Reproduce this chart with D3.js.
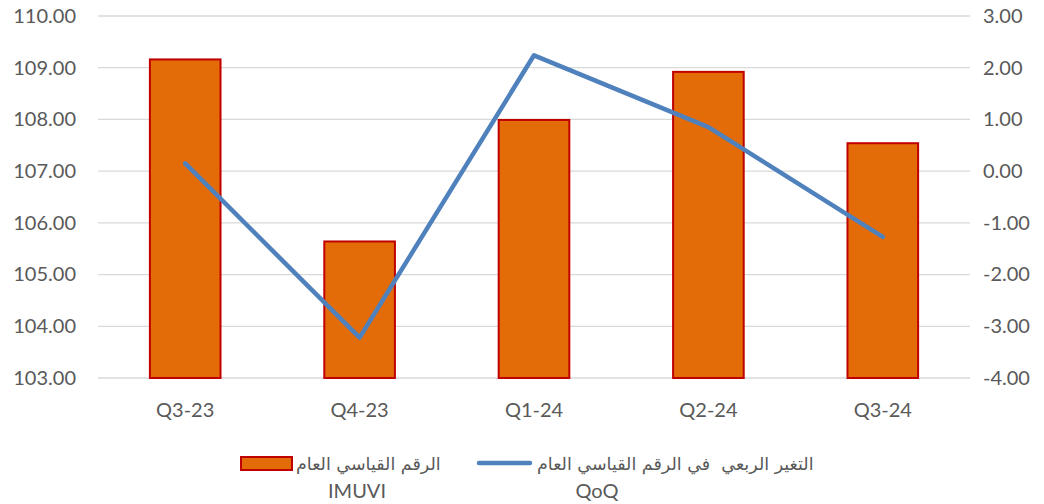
<!DOCTYPE html>
<html><head><meta charset="utf-8">
<script src="https://cdn.jsdelivr.net/npm/d3@7"></script>
<style>
html,body{margin:0;padding:0;background:#fff;}
svg{display:block;}
</style></head>
<body>
<script>
const categories = ["Q3-23","Q4-23","Q1-24","Q2-24","Q3-24"];
const indexValues = [109.16, 105.64, 107.99, 108.92, 107.54];
const qoqValues = [0.15, -3.22, 2.24, 0.85, -1.27];
const leftTicks = [103,104,105,106,107,108,109,110];
const rightTicks = [-4,-3,-2,-1,0,1,2,3];
const legendBarLabel = "الرقم القياسي العام";
const legendBarSub = "IMUVI";
const legendLineLabel = "التغير الربعي  في الرقم القياسي العام";
const legendLineSub = "QoQ";

(function(){
const W = 1044, H = 504;
const pL = 98, pR = 970, pT = 16, pB = 378;
const svg = d3.select("body").append("svg").attr("width", W).attr("height", H);

const fmt = d3.formatLocale({decimal: ".", thousands: ",", grouping: [3], currency: ["", ""], minus: "-"}).format(".2f");
const x = d3.scaleBand().domain(categories).range([pL, pR]).padding(0);
const yL = d3.scaleLinear().domain([103,110]).range([pB, pT]);
const yR = d3.scaleLinear().domain([-4,3]).range([pB, pT]);
const textColor = "#595959";
const font = "Lato, 'Open Sans', sans-serif";

// gridlines
svg.append("g").selectAll("line").data(leftTicks).join("line")
  .attr("x1", pL).attr("x2", pR)
  .attr("y1", d => yL(d)).attr("y2", d => yL(d))
  .attr("stroke", "#D9D9D9").attr("stroke-width", 1.3);

// left axis
const axL = svg.append("g").attr("transform", `translate(${pL},0)`)
  .call(d3.axisLeft(yL).tickValues(leftTicks).tickFormat(fmt).tickSize(0).tickPadding(22));
axL.select(".domain").remove();
axL.selectAll("text").attr("fill", textColor).style("font-family", font).style("font-size", "20px");

// right axis
const axR = svg.append("g").attr("transform", `translate(${pR},0)`)
  .call(d3.axisRight(yR).tickValues(rightTicks).tickFormat(fmt).tickSize(0).tickPadding(13));
axR.select(".domain").remove();
axR.selectAll("text").attr("fill", textColor).style("font-family", font).style("font-size", "20px");

// bottom axis
const axB = svg.append("g").attr("transform", `translate(0,${pB})`)
  .call(d3.axisBottom(x).tickSize(0).tickPadding(25));
axB.select(".domain").remove();
axB.selectAll("text").attr("fill", textColor).style("font-family", font).style("font-size", "20px");

// bars
const bw = x.bandwidth() * 0.405;
svg.append("g").selectAll("rect").data(categories).join("rect")
  .attr("x", (d) => x(d) + x.bandwidth()/2 - bw/2)
  .attr("width", bw)
  .attr("y", (d,i) => yL(indexValues[i]))
  .attr("height", (d,i) => yL(103) - yL(indexValues[i]))
  .attr("fill", "#E36C09").attr("stroke", "#C00000").attr("stroke-width", 2);

// line
const line = d3.line().x((d,i) => x(categories[i]) + x.bandwidth()/2).y(d => yR(d));
svg.append("path").datum(qoqValues).attr("d", line)
  .attr("fill", "none").attr("stroke", "#4F81BD").attr("stroke-width", 4.5)
  .attr("stroke-linejoin", "round").attr("stroke-linecap", "round");

// legend
const lg = svg.append("g");
lg.append("rect").attr("x", 241).attr("y", 457).attr("width", 51).attr("height", 13)
  .attr("fill", "#E36C09").attr("stroke", "#C00000").attr("stroke-width", 2);
lg.append("text").attr("x", 296).attr("y", 464).attr("dy", "0.35em")
  .attr("fill", textColor).style("font-family", "'DejaVu Sans', sans-serif").style("font-size", "17.5px")
  .style("white-space", "pre")
  .attr("direction", "rtl").attr("text-anchor", "end").text(legendBarLabel);
lg.append("text").attr("x", 357).attr("y", 491).attr("dy", "0.35em").attr("text-anchor", "middle")
  .attr("fill", textColor).style("font-family", font).style("font-size", "20px").text(legendBarSub);
lg.append("line").attr("x1", 479).attr("x2", 530).attr("y1", 463).attr("y2", 463)
  .attr("stroke", "#4F81BD").attr("stroke-width", 4.5).attr("stroke-linecap", "round");
lg.append("text").attr("x", 537).attr("y", 464).attr("dy", "0.35em")
  .attr("fill", textColor).style("font-family", "'DejaVu Sans', sans-serif").style("font-size", "17.5px")
  .style("white-space", "pre")
  .attr("direction", "rtl").attr("text-anchor", "end").text(legendLineLabel);
lg.append("text").attr("x", 597).attr("y", 491).attr("dy", "0.35em").attr("text-anchor", "middle")
  .attr("fill", textColor).style("font-family", font).style("font-size", "20px").text(legendLineSub);
})();
</script>
</body></html>
